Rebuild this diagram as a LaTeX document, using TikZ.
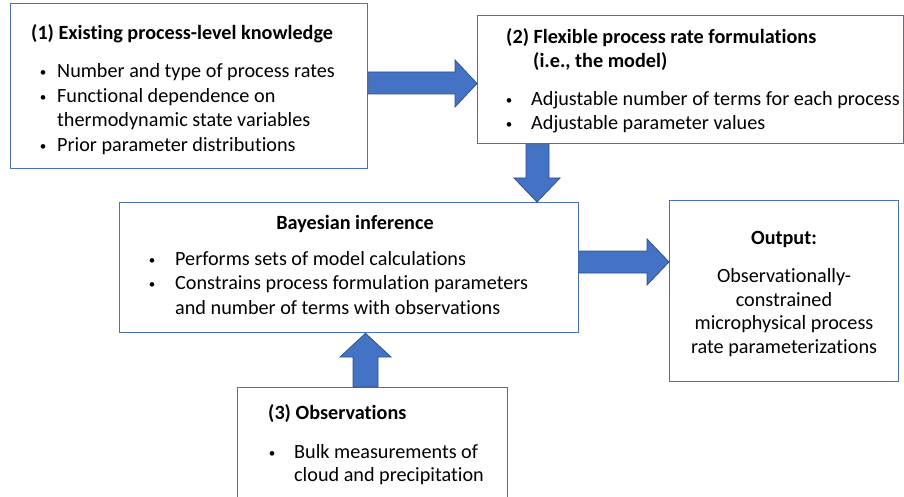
\documentclass[tikz,border=0pt]{standalone}
\usepackage{fontspec}
\setmainfont[Ligatures={NoCommon}]{Carlito}
\definecolor{boxline}{RGB}{72,112,180}
\definecolor{arrowfill}{RGB}{68,114,196}
\definecolor{arrowline}{RGB}{47,82,143}
\begin{document}
\begin{tikzpicture}[x=1pt,y=-1pt,
  box/.style={draw=boxline, line width=1.3pt, fill=white, inner sep=0pt, anchor=north west},
  txt/.style={anchor=base west, inner sep=0pt, font=\fontsize{20.2}{24}\selectfont},
  ttl/.style={txt, font=\fontsize{20.2}{24}\selectfont\bfseries},
  ctxt/.style={txt, anchor=base},
  cttl/.style={ttl, anchor=base},
  bul/.style={anchor=base, inner sep=0pt, yshift=1pt, font=\fontsize{13}{14}\selectfont},
  bigarrow/.style={fill=arrowfill, draw=arrowline, line width=0.8pt, line join=miter}]
\clip (0,0) rectangle (904,497);
\fill[white] (0,0) rectangle (904,497);

% boxes
\node[box, minimum width=357pt, minimum height=165pt] (k) at (10,3) {};
\node[box, minimum width=426pt, minimum height=128pt] (m) at (477,15) {};
\node[box, minimum width=459pt, minimum height=130pt] (b) at (119,202) {};
\node[box, minimum width=270pt, minimum height=130pt] (o) at (237,387) {};
\node[box, minimum width=229pt, minimum height=181pt] (out) at (669,200) {};

% box 1 text
\node[ttl] (k0) at (31,40) {(1) Existing process-level knowledge};
\node[bul] (kb1) at (43,78) {•};
\node[txt] (k1) at (57,78) {Number and type of process rates};
\node[bul] (kb2) at (43,102.5) {•};
\node[txt] (k2) at (57,102.5) {Functional dependence on};
\node[txt] (k3) at (57,127) {thermodynamic state variables};
\node[bul] (kb3) at (43,151.5) {•};
\node[txt] (k4) at (57,151.5) {Prior parameter distributions};

% box 2 text
\node[ttl] (m0) at (506,44) {(2) Flexible process rate formulations};
\node[ttl] (m1) at (533,68) {(i.e., the model)};
\node[bul] (mb1) at (509,106) {•};
\node[txt] (m2) at (531,106) {Adjustable number of terms for each process};
\node[bul] (mb2) at (509,130) {•};
\node[txt] (m3) at (531,130) {Adjustable parameter values};

% Bayesian box text
\node[cttl] (b0) at (355,229) {Bayesian inference};
\node[bul] (bb1) at (152,265) {•};
\node[txt] (b1) at (175,265) {Performs sets of model calculations};
\node[bul] (bb2) at (152,289) {•};
\node[txt] (b2) at (175,289) {Constrains process formulation parameters};
\node[txt] (b3) at (175,314) {and number of terms with observations};

% observations box text
\node[ttl] (o0) at (268,419) {(3) Observations};
\node[bul] (ob1) at (272,458) {•};
\node[txt] (o1) at (294,458) {Bulk measurements of};
\node[txt] (o2) at (294,481) {cloud and precipitation};

% output box text
\node[cttl] (out0) at (784,244) {Output:};
\node[ctxt] (out1) at (784,282) {Observationally-};
\node[ctxt] (out2) at (784,306) {constrained};
\node[ctxt] (out3) at (784,329) {microphysical process};
\node[ctxt] (out4) at (784,353) {rate parameterizations};

% block arrows
\draw[bigarrow] (k.east |- 0,72) -- (455,72) -- (455,60) -- (m.west |- 0,83.5)
  -- (455,107) -- (455,94) -- (k.east |- 0,94) -- cycle;
\draw[bigarrow] (526,0 |- m.south) -- (526,178) -- (514,178) -- (537,0 |- b.north)
  -- (560,178) -- (549,178) -- (549,0 |- m.south) -- cycle;
\draw[bigarrow] (353,0 |- o.north) -- (353,357) -- (340,357) -- (365.5,0 |- b.south)
  -- (391,357) -- (378,357) -- (378,0 |- o.north) -- cycle;
\draw[bigarrow] (b.east |- 0,251) -- (647,251) -- (647,239) -- (out.west |- 0,262)
  -- (647,285) -- (647,273) -- (b.east |- 0,273) -- cycle;
\end{tikzpicture}
\end{document}
